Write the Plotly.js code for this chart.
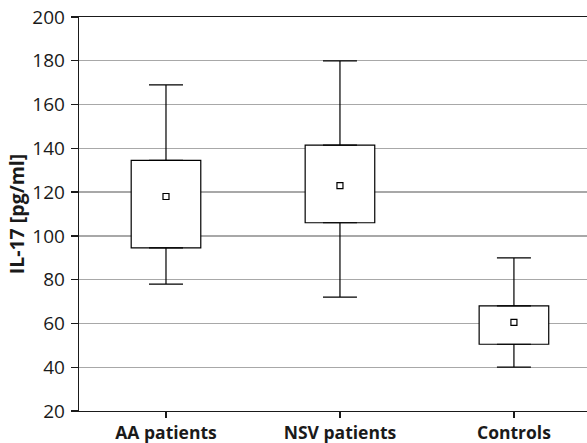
<!DOCTYPE html>
<html>
<head>
<meta charset="utf-8">
<script src="https://cdn.plot.ly/plotly-3.0.1.min.js"></script>
<style>html,body{margin:0;padding:0;background:#fff;}#chart{width:587px;height:443px;}</style>
</head>
<body>
<div id="chart"></div>
<script>
const categories = ["AA patients", "NSV patients", "Controls"];
const q1Values = [94.5, 106, 50.5];
const q3Values = [134.5, 141.5, 68];
const lowerWhisker = [78, 72, 40];
const upperWhisker = [169, 180, 90];
const meanValues = [118, 123, 60.5];
const yTicks = [20, 40, 60, 80, 100, 120, 140, 160, 180, 200];

const ink = "#000000";
const boxHeights = q3Values.map((v, i) => v - q1Values[i]);
const upperLengths = upperWhisker.map((v, i) => v - q3Values[i]);
const lowerLengths = q1Values.map((v, i) => v - lowerWhisker[i]);

const boxTrace = {
  type: "bar",
  x: categories,
  base: q1Values,
  y: boxHeights,
  width: 0.4,
  marker: {color: "#ffffff", line: {color: ink, width: 1.2}},
  hoverinfo: "skip",
  showlegend: false
};
const upperWhiskerTrace = {
  type: "scatter",
  mode: "markers",
  x: categories,
  y: q3Values,
  marker: {size: 1, opacity: 0},
  error_y: {type: "data", symmetric: false, array: upperLengths, arrayminus: [0, 0, 0], color: ink, thickness: 1.2, width: 17},
  hoverinfo: "skip",
  showlegend: false
};
const lowerWhiskerTrace = {
  type: "scatter",
  mode: "markers",
  x: categories,
  y: q1Values,
  marker: {size: 1, opacity: 0},
  error_y: {type: "data", symmetric: false, array: [0, 0, 0], arrayminus: lowerLengths, color: ink, thickness: 1.2, width: 17},
  hoverinfo: "skip",
  showlegend: false
};
const meanTrace = {
  type: "scatter",
  mode: "markers",
  x: categories,
  y: meanValues,
  marker: {symbol: "square", size: 6, color: "#ffffff", line: {color: ink, width: 1.2}},
  showlegend: false,
  hoverinfo: "skip"
};

const layout = {
  width: 587, height: 443,
  margin: {l: 79, r: 0, t: 17, b: 32},
  paper_bgcolor: "#ffffff", plot_bgcolor: "#ffffff",
  font: {family: "Open Sans, sans-serif", color: "#1a1a1a"},
  showlegend: false,
  xaxis: {
    type: "category",
    range: [-0.5, 2.42],
    showline: true, linecolor: "#1a1a1a", linewidth: 1.3, mirror: true,
    ticks: "outside", ticklen: 6, tickcolor: "#1a1a1a", tickwidth: 1.3,
    showgrid: false, zeroline: false,
    tickfont: {size: 17.5, family: "Open Sans, sans-serif", weight: "bold", color: "#1a1a1a"}
  },
  yaxis: {
    range: [20, 200],
    tickvals: yTicks,
    showline: true, linecolor: "#1a1a1a", linewidth: 1.3,
    ticks: "outside", ticklen: 7, tickcolor: "#1a1a1a", tickwidth: 1.3,
    ticklabelstandoff: 2,
    showgrid: true, gridcolor: "#a8a8a8", gridwidth: 1.3,
    zeroline: false,
    tickfont: {size: 19, family: "Open Sans, sans-serif", color: "#1a1a1a"},
    title: {text: "IL-17 [pg/ml]", font: {size: 19.5, family: "Open Sans, sans-serif", weight: "bold", color: "#1a1a1a"}, standoff: 2}
  }
};

Plotly.newPlot("chart", [boxTrace, upperWhiskerTrace, lowerWhiskerTrace, meanTrace], layout, {displayModeBar: false, staticPlot: true});
</script>
</body>
</html>
